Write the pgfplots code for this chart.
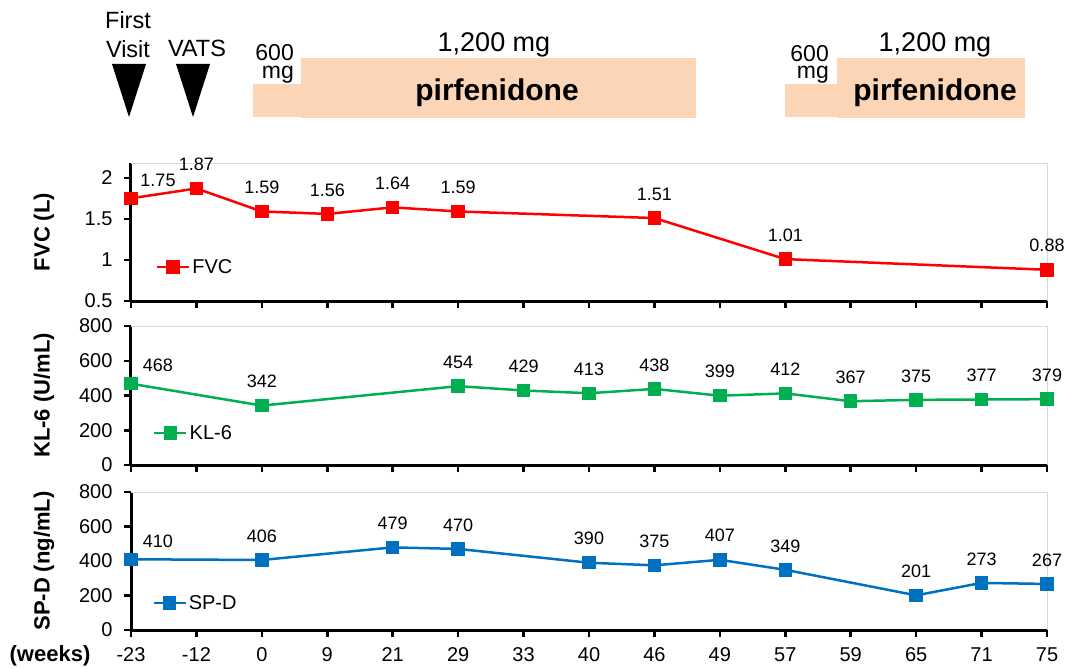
\documentclass[border=0pt]{standalone}
\usepackage{pgfplots}
\pgfplotsset{compat=1.18}
\usepackage{pgfplotstable}
\usepackage{fontspec}
\setmainfont{Liberation Sans}
\definecolor{fvcred}{RGB}{255,0,0}
\definecolor{klgreen}{RGB}{0,176,80}
\definecolor{spblue}{RGB}{0,112,192}
\definecolor{peach}{RGB}{251,213,181}
\definecolor{boxgray}{RGB}{217,217,217}

\pgfplotstableread{
x y dx dy lab
0 1.75 27 18 1.75
1 1.87 0 24 1.87
2 1.59 0 24 1.59
3 1.56 0 24 1.56
4 1.64 0 24 1.64
5 1.59 0 24 1.59
8 1.51 0 24 1.51
10 1.01 0 24 1.01
14 0.88 0 24 0.88
}\fvcdata

\pgfplotstableread{
x y dx dy lab
0 468 27 18 468
2 342 0 24 342
5 454 0 24 454
6 429 0 24 429
7 413 0 24 413
8 438 0 24 438
9 399 0 24 399
10 412 0 24 412
11 367 0 24 367
12 375 0 24 375
13 377 0 24 377
14 379 0 24 379
}\kldata

\pgfplotstableread{
x y dx dy lab
0 410 27 18 410
2 406 0 24 406
4 479 0 24 479
5 470 0 24 470
7 390 0 24 390
8 375 0 24 375
9 407 0 24 407
10 349 0 24 349
12 201 0 24 201
13 273 0 24 273
14 267 0 24 267
}\spdata

\pgfplotsset{
  panel/.style={
    scale only axis, width=916pt,
    xmin=0, xmax=14, xtick={0,...,14},
    axis x line*=bottom, axis y line*=left,
    axis line style={black, line width=3pt},
    tick align=outside, xtick pos=bottom, ytick pos=left,
    major tick length=7pt,
    every tick/.style={black, line width=2.5pt},
    tick label style={font=\fontsize{20}{24}\selectfont},
    yticklabel style={xshift=-8pt},
    xticklabel style={yshift=-7pt},
    /pgf/number format/assume math mode=true,
    ylabel style={font=\bfseries\fontsize{22}{26}\selectfont, at={(axis description cs:-0.095,0.5)}, anchor=center},
    clip=false,
    legend style={draw=none, fill=none, font=\fontsize{20}{24}\selectfont, anchor=west, inner sep=0pt},
    legend image code/.code={\draw[mark repeat=2,mark phase=2,##1] plot coordinates {(0pt,0pt)(16pt,0pt)(32pt,0pt)};},
  },
  series/.style={color=#1, line width=2.5pt, mark=square*, mark size=5.5pt, mark options={solid},
    nodes near coords, point meta=explicit symbolic,
    nodes near coords align=center,
    visualization depends on={\thisrow{dx}\as\dx},
    visualization depends on={\thisrow{dy}\as\dy},
    every node near coord/.append style={font=\fontsize{18}{21}\selectfont, xshift=\dx pt, yshift=\dy pt, text=black, anchor=center},
  },
}

\begin{document}
\begin{tikzpicture}
\path[use as bounding box] (0pt,0pt) rectangle (1066pt,-669pt);

% annotations
\begin{scope}[x=1pt,y=-1pt]
\fill[black] (112,64) -- (146,64) -- (129,117) -- cycle;
\fill[black] (176,64) -- (210,64) -- (193,117) -- cycle;
\fill[peach] (253,84) rectangle (302,117);
\fill[peach] (301,58) rectangle (696,118);
\fill[peach] (785,84) rectangle (838,117);
\fill[peach] (837,58) rectangle (1025,118);
\node[font=\fontsize{23.5}{26}\selectfont, anchor=base, inner sep=0pt] at (128,29) {First};
\node[font=\fontsize{23.5}{26}\selectfont, anchor=base, inner sep=0pt] at (128,58) {Visit};
\node[font=\fontsize{23.5}{26}\selectfont, anchor=base, inner sep=0pt] at (197,57) {VATS};
\node[font=\fontsize{23}{25}\selectfont, anchor=base east, inner sep=0pt] at (294,61) {600};
\node[font=\fontsize{23}{25}\selectfont, anchor=base east, inner sep=0pt] at (294,78) {mg};
\node[font=\fontsize{23}{25}\selectfont, anchor=base east, inner sep=0pt] at (829,62) {600};
\node[font=\fontsize{23}{25}\selectfont, anchor=base east, inner sep=0pt] at (829,78) {mg};
\node[font=\fontsize{27}{30}\selectfont, anchor=base, inner sep=0pt] at (494,52) {1,200 mg};
\node[font=\fontsize{27}{30}\selectfont, anchor=base, inner sep=0pt] at (935,52) {1,200 mg};
\node[font=\bfseries\fontsize{30}{33}\selectfont, anchor=base, inner sep=0pt] at (497,100) {pirfenidone};
\node[font=\bfseries\fontsize{30}{33}\selectfont, anchor=base, inner sep=0pt] at (935,100) {pirfenidone};
\node[font=\bfseries\fontsize{22}{26}\selectfont, anchor=center, inner sep=0pt] at (50,656) {(weeks)};
\end{scope}

% FVC panel
\begin{axis}[panel, height=138pt, at={(131pt,-301pt)}, anchor=south west,
  ymin=0.5, ymax=2.18, ytick={0.5,1,1.5,2}, xticklabel={\phantom{0}},
  ylabel={FVC (L)},
  legend style={at={(axis description cs:0.027,0.246)}}]
\draw[boxgray, line width=1pt] (rel axis cs:0,1) -- (rel axis cs:1,1) -- (rel axis cs:1,0);
\addplot[series=fvcred] table[x=x, y=y, meta=lab] {\fvcdata};
\addlegendentry{FVC}
\end{axis}

% KL-6 panel
\begin{axis}[panel, height=139pt, at={(131pt,-465pt)}, anchor=south west,
  ymin=0, ymax=800, ytick={0,200,400,600,800}, xticklabel={\phantom{0}},
  ylabel={KL-6 (U/mL)},
  legend style={at={(axis description cs:0.024,0.23)}}]
\draw[boxgray, line width=1pt] (rel axis cs:0,1) -- (rel axis cs:1,1) -- (rel axis cs:1,0);
\addplot[series=klgreen] table[x=x, y=y, meta=lab] {\kldata};
\addlegendentry{KL-6}
\end{axis}

% SP-D panel
\begin{axis}[panel, height=138pt, at={(131pt,-630pt)}, anchor=south west,
  ymin=0, ymax=800, ytick={0,200,400,600,800},
  xticklabels={-23,-12,0,9,21,29,33,40,46,49,57,59,65,71,75},
  ylabel={SP-D (ng/mL)},
  legend style={at={(axis description cs:0.023,0.196)}}]
\draw[boxgray, line width=1pt] (rel axis cs:0,1) -- (rel axis cs:1,1) -- (rel axis cs:1,0);
\addplot[series=spblue] table[x=x, y=y, meta=lab] {\spdata};
\addlegendentry{SP-D}
\end{axis}
\end{tikzpicture}
\end{document}
